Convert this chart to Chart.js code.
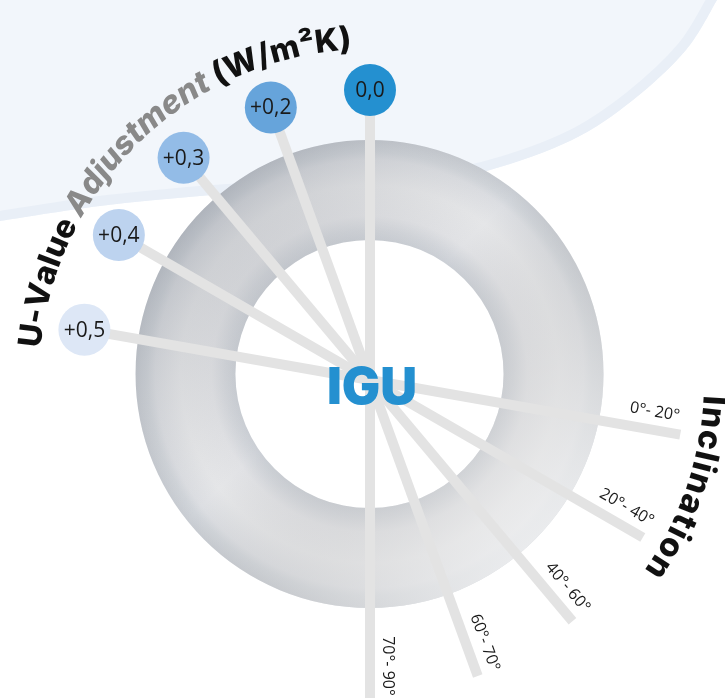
<!DOCTYPE html>
<html>
<head>
<meta charset="utf-8">
<script src="https://cdn.jsdelivr.net/npm/chart.js@4.4.1/dist/chart.umd.min.js"></script>
<style>
  html, body { margin: 0; padding: 0; background: #fff; }
  #wrap { position: relative; width: 725px; height: 698px; overflow: hidden; }
  #wrap canvas { position: absolute; left: 0; top: 0; }
</style>
</head>
<body>
<div id="wrap">
  <canvas id="ring" width="725" height="698"></canvas>
  <canvas id="spokes" width="725" height="698"></canvas>
</div>
<script>
// U-value adjustment per spoke (upper left fan)
const uValueLabels = ['0,0', '+0,2', '+0,3', '+0,4', '+0,5'];
const uValueAngles = [90, 110, 130, 150, 170];
const uValueReach = 290;

// inclination ranges (lower right fan)
const inclinationLabels = ['0°- 20°', '20°- 40°', '40°- 60°', '60°- 70°', '70°- 90°'];
const inclinationAngles = [-10, -30, -50, -70, -90];
const inclinationReach = [315, 315, 315, 315, 320];

const uValueColors = ['#2490d0', '#66a4db', '#93bce7', '#bdd3ef', '#dde7f6'];
const spokeColor = '#e3e3e3';

const rad = d => d * Math.PI / 180;
const polar = (deg, r) => ({ x: r * Math.cos(rad(deg)), y: r * Math.sin(rad(deg)) });

// light blue backdrop at the top
const backdropPlugin = {
    id: 'backdrop',
    beforeDraw(chart) {
        const ctx = chart.ctx;
        const pts = [[717, 0], [686, 50], [633, 100], [572, 140], [490, 170], [433, 179],
                     [300, 189], [200, 196], [100, 206], [0, 221]];
        const edge = () => {
            ctx.moveTo(pts[0][0], pts[0][1]);
            for (let i = 0; i < pts.length - 1; i++) {
                const p0 = pts[Math.max(i - 1, 0)], p1 = pts[i], p2 = pts[i + 1], p3 = pts[Math.min(i + 2, pts.length - 1)];
                ctx.bezierCurveTo(p1[0] + (p2[0] - p0[0]) / 6, p1[1] + (p2[1] - p0[1]) / 6,
                                  p2[0] - (p3[0] - p1[0]) / 6, p2[1] - (p3[1] - p1[1]) / 6,
                                  p2[0], p2[1]);
            }
        };
        ctx.save();
        ctx.beginPath();
        ctx.moveTo(0, 0);
        ctx.lineTo(717, 0);
        edge();
        ctx.lineTo(0, 0);
        ctx.closePath();
        ctx.fillStyle = '#f2f6fb';
        ctx.fill();
        ctx.clip();
        ctx.beginPath();
        edge();
        ctx.lineWidth = 20;
        ctx.strokeStyle = '#e9eff7';
        ctx.stroke();
        ctx.restore();
    }
};

// directional light on the ring
const ringLightPlugin = {
    id: 'ringLight',
    afterDatasetsDraw(chart) {
        const arc = chart.getDatasetMeta(0).data[0];
        if (!arc) return;
        const { x, y, innerRadius, outerRadius } = arc.getProps(['x', 'y', 'innerRadius', 'outerRadius'], true);
        const ctx = chart.ctx;
        ctx.save();
        ctx.beginPath();
        ctx.arc(x, y, outerRadius, 0, Math.PI * 2);
        ctx.arc(x, y, innerRadius, 0, Math.PI * 2, true);
        ctx.clip();
        const k = outerRadius * 0.75;
        const g = ctx.createLinearGradient(x - k, y - k, x + k, y + k);
        g.addColorStop(0, 'rgba(100,108,122,0.28)');
        g.addColorStop(0.45, 'rgba(160,160,160,0)');
        g.addColorStop(1, 'rgba(255,255,255,0.72)');
        ctx.fillStyle = g;
        ctx.fillRect(x - outerRadius, y - outerRadius, outerRadius * 2, outerRadius * 2);
        ctx.restore();
    }
};

new Chart(document.getElementById('ring'), {
    type: 'doughnut',
    data: {
        labels: ['IGU'],
        datasets: [{
            data: [1],
            borderWidth: 0,
            backgroundColor(context) {
                const chart = context.chart;
                const a = chart.chartArea;
                if (!a) return '#dcdee1';
                const cx = (a.left + a.right) / 2, cy = (a.top + a.bottom) / 2;
                const R = Math.min(a.right - a.left, a.bottom - a.top) / 2;
                const g = chart.ctx.createRadialGradient(cx, cy, R * 0.573, cx, cy, R);
                g.addColorStop(0, '#cbcfd5');
                g.addColorStop(0.1, '#d3d6db');
                g.addColorStop(0.24, '#e1e2e5');
                g.addColorStop(0.55, '#e5e6e8');
                g.addColorStop(0.8, '#dcdee2');
                g.addColorStop(0.88, '#d1d5da');
                g.addColorStop(1, '#c8ccd2');
                return g;
            }
        }]
    },
    options: {
        responsive: false,
        devicePixelRatio: 1,
        animation: false,
        events: [],
        cutout: '57.3%',
        layout: { padding: { left: 135, right: 121, top: 140, bottom: 90 } },
        plugins: { legend: { display: false }, tooltip: { enabled: false } }
    },
    plugins: [backdropPlugin, ringLightPlugin]
});

function drawArcText(ctx, parts, cx, cy, radius, startDeg, spacing) {
    let ang = rad(startDeg);
    parts.forEach(p => {
        ctx.font = p.font;
        ctx.fillStyle = p.color;
        for (const ch of p.text) {
            const w = ctx.measureText(ch).width + spacing;
            const mid = ang + (w / 2) / radius;
            ctx.save();
            ctx.translate(cx + radius * Math.cos(mid), cy + radius * Math.sin(mid));
            ctx.rotate(mid + Math.PI / 2);
            ctx.textAlign = 'center';
            ctx.textBaseline = 'alphabetic';
            ctx.fillText(ch, 0, 0);
            ctx.restore();
            ang += w / radius;
        }
    });
}

const labelsPlugin = {
    id: 'labels',
    afterDatasetsDraw(chart) {
        const ctx = chart.ctx;
        const sx = chart.scales.x, sy = chart.scales.y;
        const hubX = sx.getPixelForValue(0), hubY = sy.getPixelForValue(0);

        // values inside the circles
        const circles = chart.getDatasetMeta(0).data;
        ctx.save();
        ctx.font = "21px 'Open Sans', sans-serif";
        ctx.fillStyle = '#1a1a1a';
        ctx.textAlign = 'center';
        ctx.textBaseline = 'middle';
        circles.forEach((pt, i) => ctx.fillText(uValueLabels[i], pt.x, pt.y + 1));
        ctx.restore();

        // inclination ranges along their spokes
        ctx.save();
        ctx.font = "16px 'Open Sans', sans-serif";
        ctx.fillStyle = '#1a1a1a';
        ctx.textAlign = 'center';
        ctx.textBaseline = 'middle';
        inclinationAngles.forEach((a, i) => {
            const along = polar(a, 286);
            const side = polar(a + 90, 18);
            const px = sx.getPixelForValue(along.x + side.x);
            const py = sy.getPixelForValue(along.y + side.y);
            ctx.save();
            ctx.translate(px, py);
            ctx.rotate(-rad(a));
            ctx.fillText(inclinationLabels[i], 0, 0);
            ctx.restore();
        });
        ctx.restore();

        // hub title
        ctx.save();
        ctx.font = "900 51px Inter, 'Open Sans', sans-serif";
        ctx.fillStyle = '#2490d0';
        ctx.textAlign = 'center';
        ctx.textBaseline = 'alphabetic';
        ctx.fillText('IGU', hubX + 2, hubY + 24);
        ctx.restore();

        // curved axis titles
        ctx.save();
        const bold = "800 32px Inter, 'Open Sans', sans-serif";
        drawArcText(ctx, [
            { text: 'U-Value ', font: bold, color: '#111111' },
            { text: 'Adjustment', font: "italic 800 32px Inter, 'Open Sans', sans-serif", color: '#898989' },
            { text: ' (W/m²K)', font: bold, color: '#111111' }
        ], hubX, hubY, 331, -174.5, 0);
        drawArcText(ctx, [
            { text: 'Inclination', font: "800 33px Inter, 'Open Sans', sans-serif", color: '#111111' }
        ], hubX, hubY, 334, 2.5, 1.5);
        ctx.restore();
    }
};

const spokeSets = [];
uValueAngles.forEach(a => spokeSets.push([polar(a, 0), polar(a, uValueReach)]));
inclinationAngles.forEach((a, i) => spokeSets.push([polar(a, 0), polar(a, inclinationReach[i])]));

new Chart(document.getElementById('spokes'), {
    type: 'scatter',
    data: {
        datasets: [
            {
                label: 'U-Value Adjustment',
                data: uValueAngles.map(a => polar(a, uValueReach)),
                pointRadius: 26,
                pointBackgroundColor: uValueColors,
                pointBorderWidth: 0,
                showLine: false
            },
            ...spokeSets.map(pts => ({
                data: pts,
                showLine: true,
                borderColor: spokeColor,
                borderWidth: 10,
                borderCapStyle: 'butt',
                pointRadius: 0
            }))
        ]
    },
    options: {
        responsive: false,
        devicePixelRatio: 1,
        animation: false,
        events: [],
        layout: { padding: 0, autoPadding: false },
        scales: {
            x: { type: 'linear', min: -370, max: 355, display: false },
            y: { type: 'linear', min: -318, max: 380, display: false }
        },
        plugins: { legend: { display: false }, tooltip: { enabled: false } }
    },
    plugins: [labelsPlugin]
});
</script>
</body>
</html>
